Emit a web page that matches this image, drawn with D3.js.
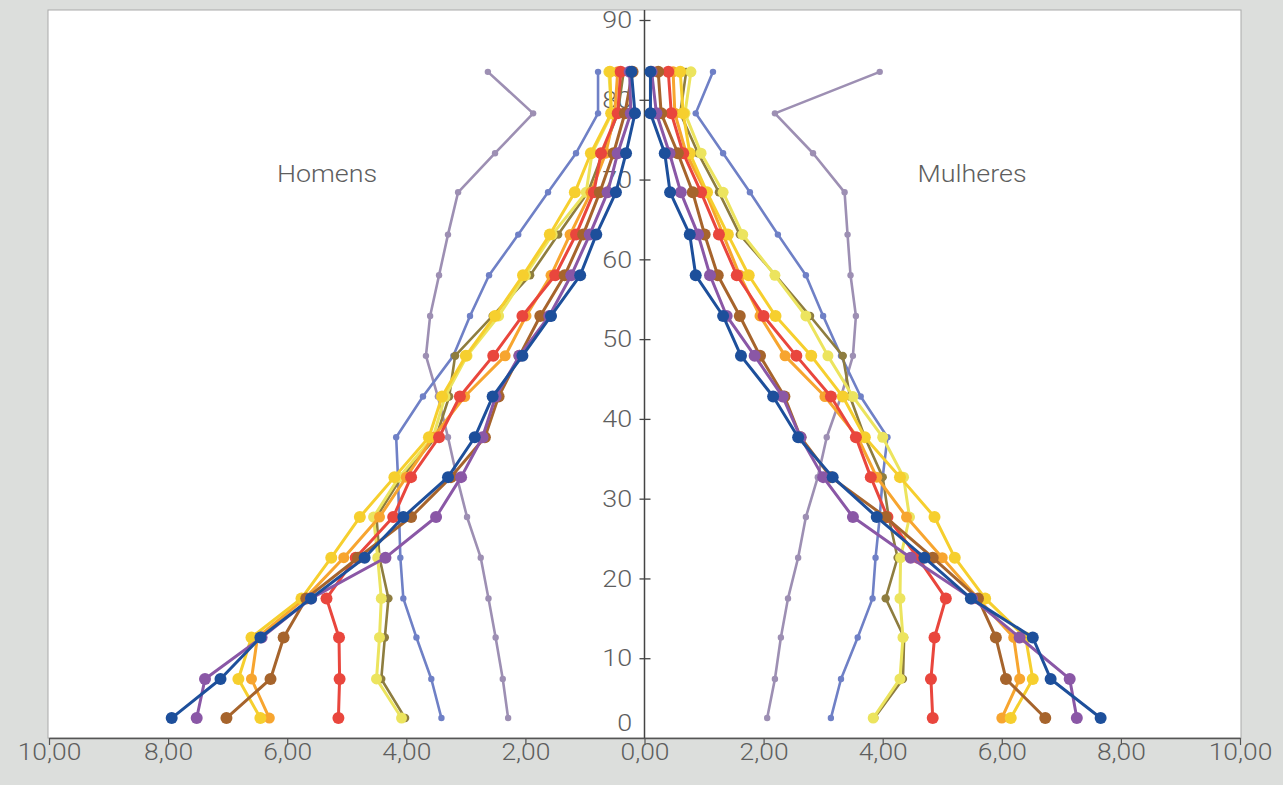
<!DOCTYPE html>
<html>
<head>
<meta charset="utf-8">
<script src="https://cdn.jsdelivr.net/npm/d3@7"></script>
<style>
body { margin: 0; background: #dcdedc; }
svg text { font-family: Roboto, "Liberation Sans", sans-serif; font-weight: 300; fill: #5e5e5e; }
</style>
</head>
<body>
<svg id="chart" width="1283" height="785"></svg>
<script>
// age groups and where each group's point sits on the age axis
var ageGroups = ["0-4","5-9","10-14","15-19","20-24","25-29","30-34","35-39","40-44",
                 "45-49","50-54","55-59","60-64","65-69","70-74","75-79","80+"];
var agePos = [2.5, 7.4, 12.6, 17.5, 22.6, 27.7, 32.7, 37.7, 42.8, 47.9, 52.9, 58.0, 63.1, 68.4, 73.3, 78.3, 83.5];

// percentages, men (left) and women (right)
var darkBlueMen      = [7.94, 7.12, 6.45, 5.60, 4.70, 4.05, 3.30, 2.85, 2.55, 2.05, 1.57, 1.08, 0.81, 0.48, 0.31, 0.16, 0.22];
var darkBlueWomen    = [7.66, 6.82, 6.52, 5.48, 4.70, 3.90, 3.16, 2.58, 2.16, 1.62, 1.32, 0.86, 0.76, 0.43, 0.34, 0.10, 0.10];
var purpleMen        = [7.52, 7.38, 6.43, 5.60, 4.35, 3.50, 3.08, 2.72, 2.50, 2.10, 1.60, 1.23, 0.92, 0.62, 0.45, 0.23, 0.25];
var purpleWomen      = [7.26, 7.14, 6.30, 5.50, 4.47, 3.50, 3.00, 2.62, 2.32, 1.85, 1.38, 1.10, 0.90, 0.61, 0.42, 0.20, 0.12];
var brownMen         = [7.02, 6.28, 6.06, 5.68, 4.81, 3.92, 3.25, 2.68, 2.45, 2.10, 1.75, 1.34, 1.03, 0.75, 0.52, 0.33, 0.20];
var brownWomen       = [6.73, 6.07, 5.90, 5.60, 4.84, 4.05, 3.13, 2.62, 2.35, 1.94, 1.60, 1.23, 1.01, 0.81, 0.56, 0.28, 0.23];
var goldMen          = [6.45, 6.82, 6.60, 5.76, 5.26, 4.78, 4.20, 3.62, 3.40, 3.00, 2.51, 2.04, 1.59, 1.17, 0.90, 0.56, 0.58];
var goldWomen        = [6.15, 6.52, 6.40, 5.72, 5.21, 4.87, 4.29, 3.70, 3.33, 2.80, 2.20, 1.75, 1.40, 1.05, 0.76, 0.65, 0.60];
var redMen           = [5.14, 5.12, 5.13, 5.34, 4.85, 4.22, 3.92, 3.45, 3.10, 2.54, 2.05, 1.50, 1.15, 0.85, 0.73, 0.45, 0.40];
var redWomen         = [4.84, 4.81, 4.87, 5.06, 4.59, 4.08, 3.80, 3.55, 3.13, 2.55, 2.00, 1.55, 1.25, 0.95, 0.65, 0.45, 0.40];
var orangeMen        = [6.30, 6.60, 6.50, 5.70, 5.05, 4.45, 4.00, 3.55, 3.02, 2.34, 1.99, 1.57, 1.25, 0.90, 0.65, 0.50, 0.45];
var orangeWomen      = [6.00, 6.30, 6.20, 5.60, 5.00, 4.40, 3.90, 3.58, 3.03, 2.36, 1.94, 1.60, 1.32, 1.03, 0.70, 0.51, 0.48];
var paleYellowMen    = [4.08, 4.50, 4.45, 4.42, 4.48, 4.55, 4.12, 3.55, 3.35, 2.98, 2.45, 2.00, 1.55, 0.98, 0.88, 0.55, 0.60];
var paleYellowWomen  = [3.84, 4.29, 4.34, 4.29, 4.30, 4.45, 4.35, 4.00, 3.50, 3.08, 2.71, 2.19, 1.65, 1.32, 0.95, 0.68, 0.78];
var oliveMen         = [4.02, 4.42, 4.36, 4.30, 4.45, 4.50, 4.08, 3.50, 3.28, 3.18, 2.55, 1.92, 1.45, 0.95, 0.70, 0.45, 0.35];
var oliveWomen       = [3.86, 4.34, 4.36, 4.05, 4.25, 4.10, 4.00, 3.70, 3.45, 3.33, 2.78, 2.20, 1.60, 1.25, 0.90, 0.60, 0.70];
var periwinkleMen    = [3.41, 3.58, 3.83, 4.05, 4.10, 4.12, 4.14, 4.17, 3.72, 3.21, 2.93, 2.61, 2.12, 1.62, 1.15, 0.78, 0.78];
var periwinkleWomen  = [3.13, 3.30, 3.58, 3.83, 3.88, 3.95, 4.00, 4.08, 3.63, 3.30, 3.00, 2.71, 2.24, 1.77, 1.32, 0.86, 1.15];
var lavenderMen      = [2.29, 2.38, 2.50, 2.62, 2.75, 2.98, 3.15, 3.30, 3.47, 3.67, 3.60, 3.45, 3.30, 3.13, 2.51, 1.87, 2.63];
var lavenderWomen    = [2.06, 2.19, 2.29, 2.41, 2.58, 2.71, 2.91, 3.06, 3.30, 3.50, 3.55, 3.46, 3.41, 3.36, 2.83, 2.19, 3.95];

var xTicks = [-10, -8, -6, -4, -2, 0, 2, 4, 6, 8, 10];
var yTicks = [0, 10, 20, 30, 40, 50, 60, 70, 80, 90];

// drawn bottom to top
var series = [
    {men: lavenderMen,   women: lavenderWomen,   color: "#9d8fb3", r: 3.2, w: 2.6},
    {men: periwinkleMen, women: periwinkleWomen, color: "#6f80c6", r: 3.2, w: 2.6},
    {men: oliveMen,      women: oliveWomen,      color: "#8e7d3f", r: 4.2, w: 2.6},
    {men: paleYellowMen, women: paleYellowWomen, color: "#ece45e", r: 5.5, w: 3},
    {men: orangeMen,     women: orangeWomen,     color: "#f7a52f", r: 5.5, w: 3},
    {men: goldMen,       women: goldWomen,       color: "#f6cf2e", r: 6,   w: 3},
    {men: redMen,        women: redWomen,        color: "#e9463d", r: 6,   w: 3},
    {men: brownMen,      women: brownWomen,      color: "#a6642c", r: 6,   w: 3},
    {men: purpleMen,     women: purpleWomen,     color: "#8a57a6", r: 6,   w: 3},
    {men: darkBlueMen,   women: darkBlueWomen,   color: "#1d4f9b", r: 6,   w: 3}
];

var svg = d3.select("#chart");
var plotLeft = 49, plotRight = 1240, plotTop = 10, plotBottom = 738;

var x = d3.scaleLinear().domain([-10, 10]).range([plotLeft, plotRight]);
var y = d3.scaleLinear().domain([0, 90]).range([plotBottom, 20]);

//Plot panel
svg.append("rect")
    .attr("x", plotLeft - 1).attr("y", plotTop)
    .attr("width", plotRight - plotLeft + 2).attr("height", plotBottom - plotTop)
    .attr("fill", "#ffffff")
    .attr("stroke", "#a9aaa9").attr("stroke-width", 1);

var fmt = function(d){ return d3.format(".2f")(Math.abs(d)).replace(".", ","); };

//X axis
var xAxis = svg.append("g")
    .attr("transform", "translate(0," + plotBottom + ")")
    .call(d3.axisBottom(x).tickValues(xTicks).tickFormat(fmt).tickSizeInner(7).tickSizeOuter(0).tickPadding(-2));
xAxis.select(".domain").attr("stroke", "#555").attr("stroke-width", 1.5);
xAxis.selectAll(".tick line").attr("stroke", "#555").attr("stroke-width", 1.2);
xAxis.selectAll(".tick text")
    .attr("font-size", 24).attr("fill", "#5e5e5e")
    .attr("transform", "scale(1.1,1)");

//Y axis in the middle
var yAxis = svg.append("g")
    .attr("transform", "translate(" + x(0) + ",0)")
    .call(d3.axisLeft(y).tickValues(yTicks).tickSizeInner(5).tickSizeOuter(0).tickPadding(6));
yAxis.select(".domain").remove();
yAxis.selectAll(".tick line").attr("x1", 6).attr("x2", -5).attr("stroke", "#444").attr("stroke-width", 1.3);
yAxis.selectAll(".tick text")
    .attr("font-size", 24).attr("fill", "#5e5e5e")
    .attr("transform", "scale(1.12,1)")
    .attr("dy", function(d){ return d == 0 ? "-0.3em" : "0.32em"; });
yAxis.selectAll(".tick").filter(function(d){ return d == 0; }).select("line").remove();

svg.append("line")
    .attr("x1", x(0)).attr("x2", x(0))
    .attr("y1", plotTop).attr("y2", plotBottom)
    .attr("stroke", "#444").attr("stroke-width", 1.5);

//Side labels
svg.append("text").attr("x", 327).attr("y", 182).attr("text-anchor", "middle")
    .attr("font-size", 24).attr("transform", "translate(327,0) scale(1.12,1) translate(-327,0)")
    .text("Homens");
svg.append("text").attr("x", 972).attr("y", 182).attr("text-anchor", "middle")
    .attr("font-size", 24).attr("transform", "translate(972,0) scale(1.12,1) translate(-972,0)")
    .text("Mulheres");

//Lines and markers
var lineMen = d3.line().x(function(d){ return x(-d.v); }).y(function(d){ return y(d.a); });
var lineWomen = d3.line().x(function(d){ return x(d.v); }).y(function(d){ return y(d.a); });

series.forEach(function(s){
    var men = s.men.map(function(v, i){ return {v: v, a: agePos[i]}; });
    var women = s.women.map(function(v, i){ return {v: v, a: agePos[i]}; });
    var g = svg.append("g");
    g.append("path").datum(men).attr("d", lineMen)
        .attr("fill", "none").attr("stroke", s.color).attr("stroke-width", s.w).attr("stroke-linejoin", "round");
    g.append("path").datum(women).attr("d", lineWomen)
        .attr("fill", "none").attr("stroke", s.color).attr("stroke-width", s.w).attr("stroke-linejoin", "round");
    g.selectAll(".m").data(men).enter().append("circle")
        .attr("cx", function(d){ return x(-d.v); }).attr("cy", function(d){ return y(d.a); })
        .attr("r", s.r).attr("fill", s.color);
    g.selectAll(".w").data(women).enter().append("circle")
        .attr("cx", function(d){ return x(d.v); }).attr("cy", function(d){ return y(d.a); })
        .attr("r", s.r).attr("fill", s.color);
});
</script>
</body>
</html>
